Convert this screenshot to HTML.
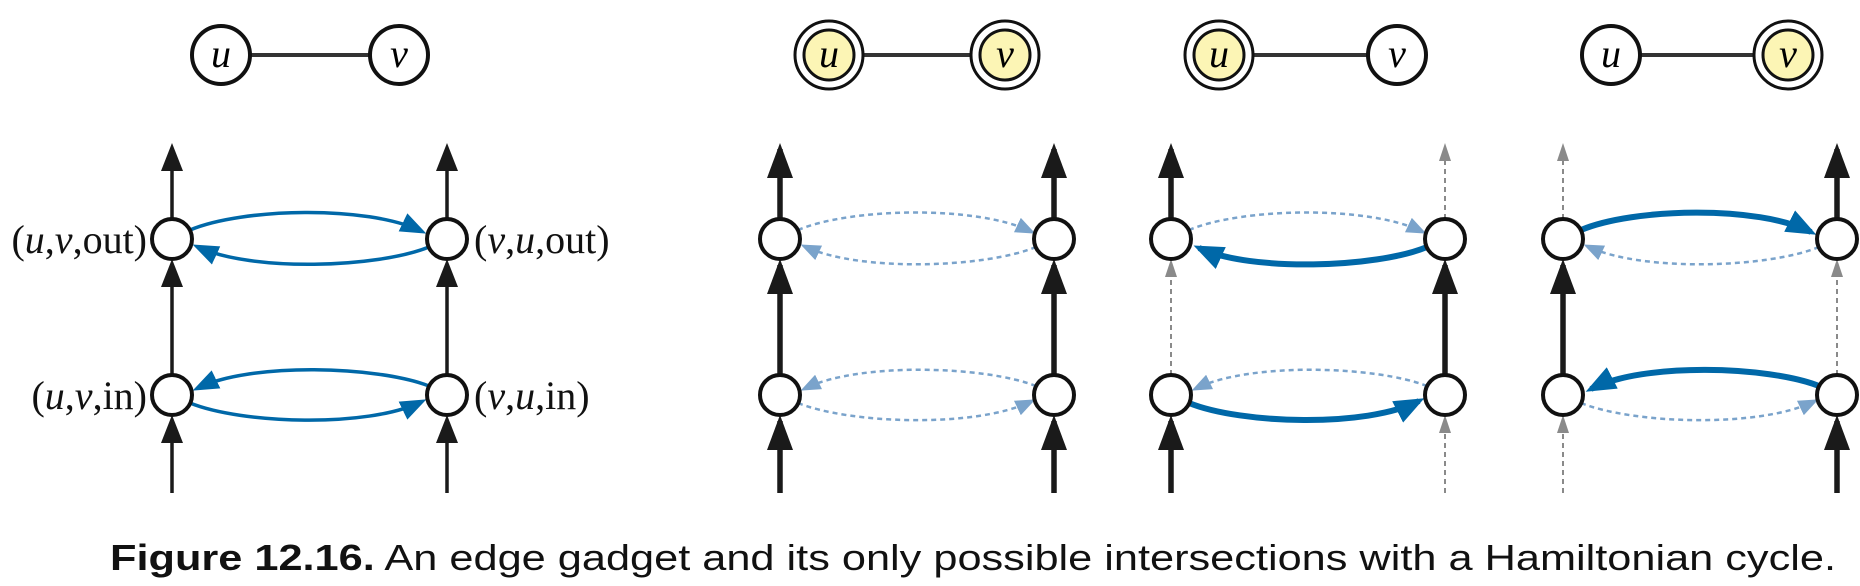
<!DOCTYPE html>
<html><head><meta charset="utf-8"><style>
html,body{margin:0;padding:0;background:#fff;width:1860px;height:586px;overflow:hidden}
</style></head><body>
<svg width="1860" height="586" viewBox="0 0 1860 586" xmlns="http://www.w3.org/2000/svg">
<defs>
<marker id="kb" markerUnits="userSpaceOnUse" markerWidth="40" markerHeight="30" refX="29" refY="13" orient="auto"><path d="M0,0 L35,13 L0,26Z" fill="#1a1a1a"/></marker>
<marker id="kt" markerUnits="userSpaceOnUse" markerWidth="34" markerHeight="26" refX="22" refY="11" orient="auto"><path d="M0,0 L28,11 L0,22Z" fill="#1a1a1a"/></marker>
<marker id="bb" markerUnits="userSpaceOnUse" markerWidth="36" markerHeight="28" refX="24" refY="12" orient="auto"><path d="M0,0 L30,12 L0,24Z" fill="#0068a8"/></marker>
<marker id="bt" markerUnits="userSpaceOnUse" markerWidth="32" markerHeight="24" refX="20" refY="10" orient="auto"><path d="M0,0 L26,10 L0,20Z" fill="#0068a8"/></marker>
<marker id="lt" markerUnits="userSpaceOnUse" markerWidth="26" markerHeight="20" refX="14" refY="8" orient="auto"><path d="M0,0 L20,8 L0,16Z" fill="#7aa3cb"/></marker>
<marker id="gr" markerUnits="userSpaceOnUse" markerWidth="24" markerHeight="16" refX="12" refY="6" orient="auto"><path d="M0,0 L18,6 L0,12Z" fill="#8a8a8a"/></marker>
</defs>

<g font-family="Liberation Serif, serif" font-style="italic" font-size="40" text-anchor="middle">
 <line x1="250" y1="55" x2="370" y2="55" stroke="#333" stroke-width="4"/>
 <circle cx="221" cy="55" r="29" fill="#fff" stroke="#111" stroke-width="4"/>
 <circle cx="399" cy="55" r="29" fill="#fff" stroke="#111" stroke-width="4"/>
 <text x="221" y="67">u</text><text x="399" y="67">v</text>
 <line x1="863" y1="55" x2="971" y2="55" stroke="#333" stroke-width="4"/>
 <circle cx="829" cy="55" r="34" fill="#fff" stroke="#111" stroke-width="3"/>
 <circle cx="829" cy="55" r="25" fill="#fcf5b5" stroke="#111" stroke-width="3"/>
 <circle cx="1005" cy="55" r="34" fill="#fff" stroke="#111" stroke-width="3"/>
 <circle cx="1005" cy="55" r="25" fill="#fcf5b5" stroke="#111" stroke-width="3"/>
 <text x="829" y="67">u</text><text x="1005" y="67">v</text>
 <line x1="1253" y1="55" x2="1368" y2="55" stroke="#333" stroke-width="4"/>
 <circle cx="1219" cy="55" r="34" fill="#fff" stroke="#111" stroke-width="3"/>
 <circle cx="1219" cy="55" r="25" fill="#fcf5b5" stroke="#111" stroke-width="3"/>
 <circle cx="1397" cy="55" r="29" fill="#fff" stroke="#111" stroke-width="4"/>
 <text x="1219" y="67">u</text><text x="1397" y="67">v</text>
 <line x1="1640" y1="55" x2="1754" y2="55" stroke="#333" stroke-width="4"/>
 <circle cx="1611" cy="55" r="29" fill="#fff" stroke="#111" stroke-width="4"/>
 <circle cx="1788" cy="55" r="34" fill="#fff" stroke="#111" stroke-width="3"/>
 <circle cx="1788" cy="55" r="25" fill="#fcf5b5" stroke="#111" stroke-width="3"/>
 <text x="1611" y="67">u</text><text x="1788" y="67">v</text>
</g>

<g transform="translate(172,0)" fill="none">
 <g stroke="#1a1a1a" stroke-width="3.5">
  <line x1="0" y1="219" x2="0" y2="149" marker-end="url(#kt)"/>
  <line x1="0" y1="375" x2="0" y2="265" marker-end="url(#kt)"/>
  <line x1="0" y1="493" x2="0" y2="421" marker-end="url(#kt)"/>
  <line x1="275" y1="219" x2="275" y2="149" marker-end="url(#kt)"/>
  <line x1="275" y1="375" x2="275" y2="265" marker-end="url(#kt)"/>
  <line x1="275" y1="493" x2="275" y2="421" marker-end="url(#kt)"/>
 </g>
 <g stroke="#0068a8" stroke-width="3.5">
  <path d="M18,230 C70,208 195,205 249,231" marker-end="url(#bt)"/>
  <path d="M257,247 C205,268 80,272 26,247" marker-end="url(#bt)"/>
  <path d="M257,386 C205,366 80,362 26,388" marker-end="url(#bt)"/>
  <path d="M18,403 C70,424 195,428 249,402" marker-end="url(#bt)"/>
 </g>
 <g stroke="#111" stroke-width="4" fill="#fff">
  <circle cx="0" cy="239" r="20"/><circle cx="275" cy="239" r="20"/>
  <circle cx="0" cy="395" r="20"/><circle cx="275" cy="395" r="20"/>
 </g>
</g>
<g font-family="Liberation Serif, serif" font-size="40" fill="#111">
 <text x="147" y="253" text-anchor="end">(<tspan font-style="italic">u</tspan>,<tspan font-style="italic">v</tspan>,out)</text>
 <text x="147" y="409" text-anchor="end">(<tspan font-style="italic">u</tspan>,<tspan font-style="italic">v</tspan>,in)</text>
 <text x="474" y="253">(<tspan font-style="italic">v</tspan>,<tspan font-style="italic">u</tspan>,out)</text>
 <text x="474" y="409">(<tspan font-style="italic">v</tspan>,<tspan font-style="italic">u</tspan>,in)</text>
</g>

<g transform="translate(780,0)" fill="none">
 <g stroke="#1a1a1a" stroke-width="5.5">
  <line x1="0" y1="219" x2="0" y2="149" marker-end="url(#kb)"/>
  <line x1="0" y1="375" x2="0" y2="265" marker-end="url(#kb)"/>
  <line x1="0" y1="493" x2="0" y2="421" marker-end="url(#kb)"/>
  <line x1="274" y1="219" x2="274" y2="149" marker-end="url(#kb)"/>
  <line x1="274" y1="375" x2="274" y2="265" marker-end="url(#kb)"/>
  <line x1="274" y1="493" x2="274" y2="421" marker-end="url(#kb)"/>
 </g>
 <g stroke="#7aa3cb" stroke-width="2.5" stroke-dasharray="5 4">
  <path d="M18,230 C70,208 195,205 250,231" marker-end="url(#lt)"/>
  <path d="M256,247 C205,268 80,272 26,247" marker-end="url(#lt)"/>
  <path d="M256,386 C205,366 80,362 26,388" marker-end="url(#lt)"/>
  <path d="M18,403 C70,424 195,428 250,402" marker-end="url(#lt)"/>
 </g>
 <g stroke="#111" stroke-width="4" fill="#fff">
  <circle cx="0" cy="239" r="20"/><circle cx="274" cy="239" r="20"/>
  <circle cx="0" cy="395" r="20"/><circle cx="274" cy="395" r="20"/>
 </g>
</g>

<g transform="translate(1171,0)" fill="none">
 <g stroke="#1a1a1a" stroke-width="5.5">
  <line x1="0" y1="219" x2="0" y2="149" marker-end="url(#kb)"/>
  <line x1="0" y1="493" x2="0" y2="421" marker-end="url(#kb)"/>
  <line x1="274" y1="375" x2="274" y2="265" marker-end="url(#kb)"/>
 </g>
 <g stroke="#8a8a8a" stroke-width="2" stroke-dasharray="5 4">
  <line x1="0" y1="375" x2="0" y2="265" marker-end="url(#gr)"/>
  <line x1="274" y1="219" x2="274" y2="149" marker-end="url(#gr)"/>
  <line x1="274" y1="493" x2="274" y2="421" marker-end="url(#gr)"/>
 </g>
 <g stroke="#7aa3cb" stroke-width="2.5" stroke-dasharray="5 4">
  <path d="M18,230 C70,208 195,205 250,231" marker-end="url(#lt)"/>
  <path d="M256,386 C205,366 80,362 26,388" marker-end="url(#lt)"/>
 </g>
 <g stroke="#0068a8" stroke-width="6">
  <path d="M256,247 C205,268 80,272 28,248" marker-end="url(#bb)"/>
  <path d="M18,403 C70,424 195,428 248,401" marker-end="url(#bb)"/>
 </g>
 <g stroke="#111" stroke-width="4" fill="#fff">
  <circle cx="0" cy="239" r="20"/><circle cx="274" cy="239" r="20"/>
  <circle cx="0" cy="395" r="20"/><circle cx="274" cy="395" r="20"/>
 </g>
</g>

<g transform="translate(1563,0)" fill="none">
 <g stroke="#1a1a1a" stroke-width="5.5">
  <line x1="0" y1="375" x2="0" y2="265" marker-end="url(#kb)"/>
  <line x1="274" y1="219" x2="274" y2="149" marker-end="url(#kb)"/>
  <line x1="274" y1="493" x2="274" y2="421" marker-end="url(#kb)"/>
 </g>
 <g stroke="#8a8a8a" stroke-width="2" stroke-dasharray="5 4">
  <line x1="0" y1="219" x2="0" y2="149" marker-end="url(#gr)"/>
  <line x1="0" y1="493" x2="0" y2="421" marker-end="url(#gr)"/>
  <line x1="274" y1="375" x2="274" y2="265" marker-end="url(#gr)"/>
 </g>
 <g stroke="#7aa3cb" stroke-width="2.5" stroke-dasharray="5 4">
  <path d="M256,247 C205,268 80,272 26,247" marker-end="url(#lt)"/>
  <path d="M18,403 C70,424 195,428 250,402" marker-end="url(#lt)"/>
 </g>
 <g stroke="#0068a8" stroke-width="6">
  <path d="M18,230 C70,208 195,205 248,232" marker-end="url(#bb)"/>
  <path d="M256,386 C205,366 80,362 28,389" marker-end="url(#bb)"/>
 </g>
 <g stroke="#111" stroke-width="4" fill="#fff">
  <circle cx="0" cy="239" r="20"/><circle cx="274" cy="239" r="20"/>
  <circle cx="0" cy="395" r="20"/><circle cx="274" cy="395" r="20"/>
 </g>
</g>

<text x="110" y="570" font-family="Liberation Sans, sans-serif" font-size="36" fill="#111" textLength="1726" lengthAdjust="spacingAndGlyphs"><tspan font-weight="bold">Figure 12.16.</tspan> An edge gadget and its only possible intersections with a Hamiltonian cycle.</text>
</svg>
</body></html>
